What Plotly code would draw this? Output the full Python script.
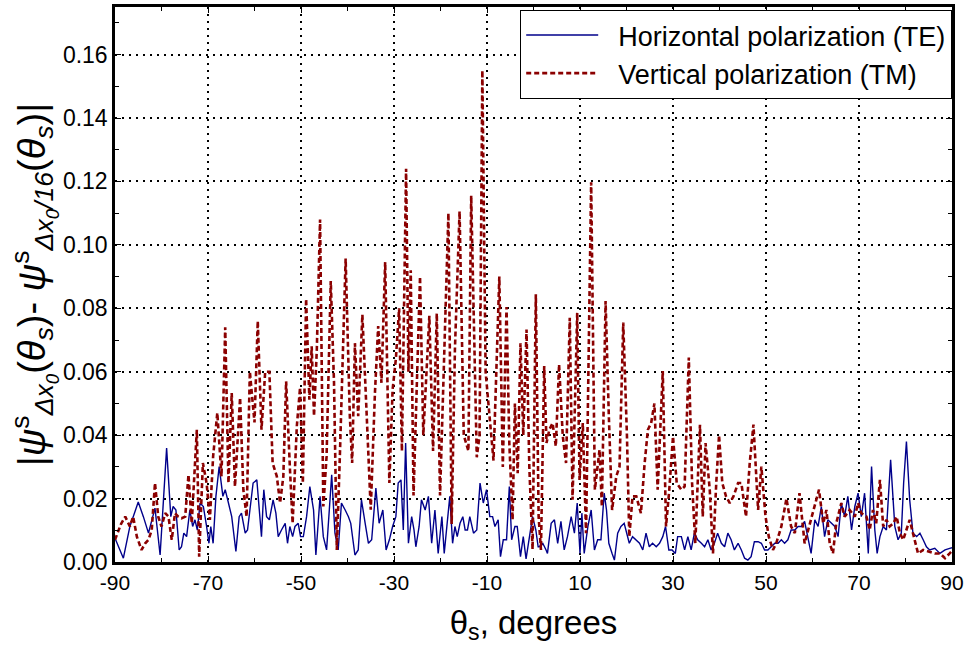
import plotly.graph_objects as go

# ---- data ----
te_x = [-90, -88.2, -86.8, -85.0, -83.9, -82.8, -81.4, -80.3, -78.9, -78.0, -77.5, -76.9, -76.2, -75.7,
        -75.2, -74.6, -73.9, -73.3, -72.8, -72.3, -71.7, -71.0, -70.3, -69.8, -69.4, -68.9, -68.3, -67.6,
        -66.8, -66.3, -65.6, -64.9, -64.0, -63.3, -62.8, -62.0, -61.5, -61.0, -60.3, -59.5, -59.0, -58.5,
        -58.0, -57.4, -56.8, -56.0, -55.4, -54.9, -54.2, -53.4, -52.9, -52.4, -51.8, -51.3, -50.6, -50.1,
        -49.5, -48.8, -48.1, -47.3, -46.8, -45.9, -45.2, -44.5, -43.4, -42.7, -42.0, -41.3, -40.5, -39.8,
        -39.3, -38.4, -37.7, -37.0, -36.2, -35.5, -34.8, -33.9, -33.2, -32.4, -31.7, -31.0, -30.3, -29.6,
        -29.1, -28.5, -28.0, -27.5, -26.9, -26.2, -25.7, -25.3, -24.6, -24.1, -23.3, -22.6, -21.9, -21.2,
        -20.5, -19.7, -19.2, -18.7, -18.0, -17.4, -16.9, -16.4, -15.8, -15.2, -14.7, -14.2, -13.7, -12.9,
        -12.2, -11.5, -10.8, -10.1, -9.4, -8.8, -8.3, -7.6, -7.1, -6.5, -5.8, -5.2, -4.7, -4.0, -3.5,
        -2.8, -2.2, -1.6, -0.9, -0.2, 0.5, 1.0, 1.2, 2.0, 2.7, 3.0, 3.8, 4.5, 5.2, 5.9, 6.6, 7.3, 8.1,
        8.8, 9.4, 10.0, 10.4, 10.9, 11.7, 12.4, 13.1, 13.8, 14.5, 15.2, 15.7, 16.2, 16.9, 17.4, 18.1,
        18.8, 19.5, 20.3, 20.6, 21.3, 22.1, 22.8, 23.5, 24.2, 24.9, 25.6, 26.4, 27.1, 27.8, 28.4, 29.1,
        29.8, 30.5, 31.0, 31.8, 32.5, 33.2, 33.9, 34.6, 35.3, 36.1, 36.8, 37.5, 38.2, 38.9, 39.6, 40.4,
        41.1, 41.8, 42.5, 43.2, 44.0, 44.7, 45.4, 46.1, 46.8, 47.5, 48.3, 49.0, 49.7, 50.4, 51.1, 51.9,
        52.6, 53.3, 54.0, 54.7, 55.4, 56.2, 56.9, 57.6, 58.3, 59.0, 59.7, 60.5, 61.2, 61.9, 62.6, 63.3,
        64.1, 64.8, 65.5, 66.2, 66.9, 67.6, 68.4, 69.1, 69.8, 70.5, 71.2, 72.0, 72.7, 73.4, 73.9, 74.5,
        75.2, 75.9, 76.8, 77.7, 78.4, 79.1, 79.6, 80.2, 80.9, 81.6, 82.4, 83.1, 83.8, 84.5, 85.2, 86.3,
        87.4, 88.5, 89.5, 90]
te_y = [0.0075, 0.0012, 0.0112, 0.0189, 0.0143, 0.0091, 0.0170, 0.0022, 0.0359, 0.0143, 0.0175, 0.0164,
        0.0038, 0.0048, 0.0091, 0.0080, 0.0164, 0.0112, 0.0133, 0.0101, 0.0186, 0.0175, 0.0112, 0.0059,
        0.0112, 0.0059, 0.0207, 0.0301, 0.0207, 0.0228, 0.0186, 0.0143, 0.0033, 0.0143, 0.0154, 0.0091,
        0.0101, 0.0164, 0.0249, 0.0259, 0.0164, 0.0080, 0.0228, 0.0143, 0.0133, 0.0196, 0.0154, 0.0080,
        0.0101, 0.0122, 0.0059, 0.0112, 0.0080, 0.0112, 0.0122, 0.0080, 0.0080, 0.0143, 0.0238, 0.0164,
        0.0022, 0.0207, 0.0080, 0.0038, 0.0275, 0.0091, 0.0038, 0.0186, 0.0164, 0.0143, 0.0122, 0.0022,
        0.0038, 0.0196, 0.0122, 0.0059, 0.0070, 0.0233, 0.0122, 0.0164, 0.0038, 0.0070, 0.0112, 0.0143,
        0.0249, 0.0259, 0.0101, 0.0375, 0.0059, 0.0143, 0.0101, 0.0048, 0.0112, 0.0196, 0.0164, 0.0207,
        0.0059, 0.0164, 0.0027, 0.0143, 0.0027, 0.0101, 0.0207, 0.0059, 0.0112, 0.0080, 0.0122, 0.0143,
        0.0101, 0.0101, 0.0143, 0.0091, 0.0101, 0.0249, 0.0186, 0.0228, 0.0143, 0.0143, 0.0112, 0.0133,
        0.0017, 0.0070, 0.0070, 0.0238, 0.0070, 0.0112, 0.0112, 0.0017, 0.0080, 0.0010, 0.0080, 0.0143,
        0.0101, 0.0048, 0.0048, 0.0059, 0.0038, 0.0027, 0.0122, 0.0133, 0.0059, 0.0128, 0.0038, 0.0080,
        0.0143, 0.0091, 0.0186, 0.0027, 0.0154, 0.0027, 0.0112, 0.0164, 0.0038, 0.0070, 0.0070, 0.0217,
        0.0164, 0.0059, 0.0027, 0.0006, 0.0091, 0.0112, 0.0122, 0.0080, 0.0059, 0.0080, 0.0070, 0.0059,
        0.0038, 0.0091, 0.0048, 0.0059, 0.0048, 0.0059, 0.0080, 0.0112, 0.0038, 0.0038, 0.0027, 0.0080,
        0.0080, 0.0038, 0.0080, 0.0038, 0.0091, 0.0070, 0.0059, 0.0048, 0.0070, 0.0038, 0.0059, 0.0091,
        0.0059, 0.0048, 0.0091, 0.0070, 0.0038, 0.0059, 0.0038, 0.0012, 0.0006, 0.0017, 0.0064, 0.0064,
        0.0059, 0.0038, 0.0038, 0.0048, 0.0059, 0.0059, 0.0070, 0.0059, 0.0070, 0.0101, 0.0101, 0.0112,
        0.0112, 0.0128, 0.0080, 0.0027, 0.0133, 0.0112, 0.0175, 0.0080, 0.0133, 0.0122, 0.0112, 0.0080,
        0.0186, 0.0143, 0.0207, 0.0101, 0.0175, 0.0217, 0.0143, 0.0217, 0.0027, 0.0301, 0.0101, 0.0027,
        0.0080, 0.0112, 0.0101, 0.0322, 0.0112, 0.0070, 0.0091, 0.0249, 0.0380, 0.0196, 0.0091, 0.0080,
        0.0091, 0.0070, 0.0048, 0.0038, 0.0043, 0.0027, 0.0038, 0.0043, 0.0045]

tm_x = [-90, -89.6, -88.7, -87.8, -86.8, -86.1, -85.3, -84.3, -83.5, -82.8, -82.1, -81.4, -80.7, -80.0,
        -79.2, -78.5, -77.8, -77.1, -76.4, -75.7, -74.9, -74.2, -73.5, -72.4, -71.9, -71.1, -70.3, -69.6,
        -68.9, -68.0, -67.1, -66.3, -65.6, -64.9, -64.2, -63.1, -62.4, -61.7, -61.0, -60.0, -59.3, -58.5,
        -57.7, -56.8, -56.1, -55.2, -54.5, -53.8, -53.2, -52.4, -51.8, -50.9, -50.2, -49.6, -48.9, -48.2,
        -47.7, -47.2, -46.6, -45.9, -45.2, -44.5, -43.6, -42.9, -42.3, -41.6, -40.4, -39.5, -39.0, -38.4,
        -37.7, -36.8, -35.9, -35.0, -34.1, -33.4, -32.7, -31.9, -31.0, -30.3, -29.6, -28.9, -28.3, -27.4,
        -26.9, -26.4, -25.8, -25.0, -24.4, -23.7, -22.4, -21.6, -20.8, -20.1, -19.4, -18.3, -17.6, -16.9,
        -15.9, -15.0, -14.0, -13.4, -12.2, -11.6, -11.0, -10.3, -9.7, -8.6, -7.35, -6.6, -5.8, -5.2,
        -4.5, -4.0, -3.4, -2.8, -2.2, -1.5, -0.9, -0.2, 0.5, 1.1, 1.6, 2.3, 2.8, 3.4, 4.1, 4.8, 5.5,
        6.3, 7.0, 7.8, 8.4, 9.4, 9.9, 10.6, 11.3, 12.4, 13.2, 14.2, 14.7, 15.5, 16.2, 16.9, 17.8, 18.5,
        19.3, 20.1, 20.6, 21.3, 22.1, 23.1, 23.9, 24.6, 25.3, 26.0, 26.7, 27.8, 28.5, 29.2, 30.0, 30.8,
        31.8, 32.5, 33.4, 34.1, 34.8, 35.8, 36.4, 37.0, 37.9, 38.6, 39.3, 39.9, 40.6, 41.4, 42.2, 43.0,
        44.0, 44.7, 45.7, 46.5, 47.3, 48.3, 49.0, 49.9, 50.6, 51.5, 52.2, 53.3, 54.4, 55.4, 56.2, 57.2,
        58.3, 59.4, 60.5, 61.4, 62.3, 63.0, 63.7, 64.4, 65.1, 66.2, 66.9, 68.0, 69.1, 69.8, 70.5, 71.6,
        72.3, 73.0, 73.7, 74.5, 75.2, 75.9, 76.6, 77.4, 78.1, 78.8, 79.5, 80.9, 81.6, 82.7, 83.8, 85.2,
        86.3, 87.4, 88.5, 89.5, 90]
tm_y = [0.0070, 0.0085, 0.0120, 0.0143, 0.0112, 0.0143, 0.0080, 0.0038, 0.0059, 0.0070, 0.0101, 0.0249,
        0.0143, 0.0112, 0.0154, 0.0143, 0.0070, 0.0154, 0.0143, 0.0138, 0.0143, 0.0275, 0.0122, 0.0417,
        0.0017, 0.0312, 0.0249, 0.0133, 0.0333, 0.0470, 0.0270, 0.0740, 0.0249, 0.0533, 0.0238, 0.0518,
        0.0228, 0.0143, 0.0600, 0.0440, 0.0760, 0.0417, 0.0600, 0.0600, 0.0312, 0.0270, 0.0186, 0.0270,
        0.0570, 0.0301, 0.0122, 0.0428, 0.0550, 0.0249, 0.0830, 0.0512, 0.0680, 0.0460, 0.0670, 0.1080,
        0.0175, 0.0333, 0.0886, 0.0565, 0.0038, 0.0354, 0.0957, 0.0460, 0.0312, 0.0690, 0.0460, 0.0780,
        0.0480, 0.0165, 0.0533, 0.0744, 0.0565, 0.0946, 0.0249, 0.0544, 0.0640, 0.0800, 0.0350, 0.1240,
        0.0600, 0.0920, 0.0210, 0.0600, 0.0900, 0.0400, 0.0776, 0.0350, 0.0784, 0.0210, 0.0580, 0.1100,
        0.0120, 0.0670, 0.1106, 0.0400, 0.0350, 0.1155, 0.0330, 0.0400, 0.1550, 0.0600, 0.0500, 0.0320,
        0.0900, 0.0300, 0.0804, 0.0375, 0.0133, 0.0500, 0.0280, 0.0690, 0.0400, 0.0733, 0.0300, 0.0040,
        0.0844, 0.0143, 0.0038, 0.0618, 0.0375, 0.0417, 0.0438, 0.0365, 0.0623, 0.0396, 0.0312, 0.0770,
        0.0196, 0.0786, 0.0259, 0.0438, 0.0091, 0.1197, 0.0228, 0.0354, 0.0175, 0.0823, 0.0460, 0.0164,
        0.0270, 0.0301, 0.0755, 0.0396, 0.0080, 0.0207, 0.0207, 0.0154, 0.0312, 0.0417, 0.0438, 0.0500,
        0.0228, 0.0602, 0.0112, 0.0228, 0.0396, 0.0249, 0.0228, 0.0238, 0.0645, 0.0249, 0.0059, 0.0433,
        0.0143, 0.0375, 0.0228, 0.0027, 0.0249, 0.0400, 0.0249, 0.0207, 0.0186, 0.0207, 0.0249, 0.0249,
        0.0143, 0.0312, 0.0433, 0.0164, 0.0301, 0.0143, 0.0080, 0.0038, 0.0059, 0.0112, 0.0200, 0.0112,
        0.0091, 0.0217, 0.0059, 0.0122, 0.0186, 0.0228, 0.0122, 0.0164, 0.0059, 0.0027, 0.0122, 0.0186,
        0.0143, 0.0164, 0.0143, 0.0186, 0.0154, 0.0143, 0.0101, 0.0164, 0.0122, 0.0259, 0.0112, 0.0133,
        0.0112, 0.0122, 0.0143, 0.0091, 0.0070, 0.0133, 0.0091, 0.0027, 0.0038, 0.0033, 0.0027, 0.0027,
        0.0012, 0.0027, 0.0035]

x_ticks = [-90, -70, -50, -30, -10, 10, 30, 50, 70, 90]
y_ticks = [0.00, 0.02, 0.04, 0.06, 0.08, 0.10, 0.12, 0.14, 0.16]

FONT = "Liberation Sans, Arial, sans-serif"
GAP = "\u00a0\u00a0"

fig = go.Figure()
fig.add_trace(go.Scatter(x=te_x, y=te_y, mode="lines", name=GAP + "Horizontal polarization (TE)",
                         line=dict(color="#00008B", width=1.4)))
fig.add_trace(go.Scatter(x=tm_x, y=tm_y, mode="lines", name=GAP + "Vertical polarization (TM)",
                         line=dict(color="#8B0000", width=2.6, dash="5px,3px")))

axis_common = dict(
    showline=True, linecolor="black", linewidth=2.5, mirror="ticks",
    ticks="inside", ticklen=6, tickwidth=1, tickcolor="black",
    showgrid=True, gridcolor="black", gridwidth=1.5, griddash="2px,5px",
    zeroline=False, automargin=False,
)

fig.update_xaxes(range=[-90, 90], tickvals=x_ticks, ticktext=[str(v) for v in x_ticks],
                 tickfont=dict(family=FONT, size=21, color="black"),
                 minor=dict(ticks="inside", dtick=10, tick0=-90, ticklen=4, showgrid=False),
                 title=dict(text="θ<sub>s</sub>, degrees", font=dict(family=FONT, size=33, color="black"),
                            standoff=18),
                 **axis_common)
fig.update_yaxes(range=[0, 0.175], tickvals=y_ticks, ticktext=[f"{v:.2f}" for v in y_ticks],
                 tickfont=dict(family=FONT, size=23, color="black"),
                 minor=dict(ticks="inside", dtick=0.01, tick0=0, ticklen=4, showgrid=False),
                 title=dict(text="|<i>ψ</i><sup>s</sup><sub><i>Δx<sub>0</sub></i></sub>(<i>θ</i><sub><i>s</i></sub>)- "
                                 "<i>ψ</i><sup>s</sup><sub><i>Δx<sub>0</sub>/16</i></sub>(<i>θ</i><sub><i>s</i></sub>)|",
                            font=dict(family=FONT, size=38, color="black"), standoff=6),
                 **axis_common)

fig.update_layout(
    width=967, height=646,
    margin=dict(l=115, r=15, t=7, b=84),
    paper_bgcolor="white", plot_bgcolor="white",
    font=dict(family=FONT, color="black"),
    showlegend=True,
    legend=dict(x=1, y=0.995, xanchor="right", yanchor="top",
                bgcolor="white", bordercolor="black", borderwidth=1.2,
                font=dict(family=FONT, size=27, color="black"),
                itemwidth=72, tracegroupgap=0),
)

fig.write_html("out.html")
